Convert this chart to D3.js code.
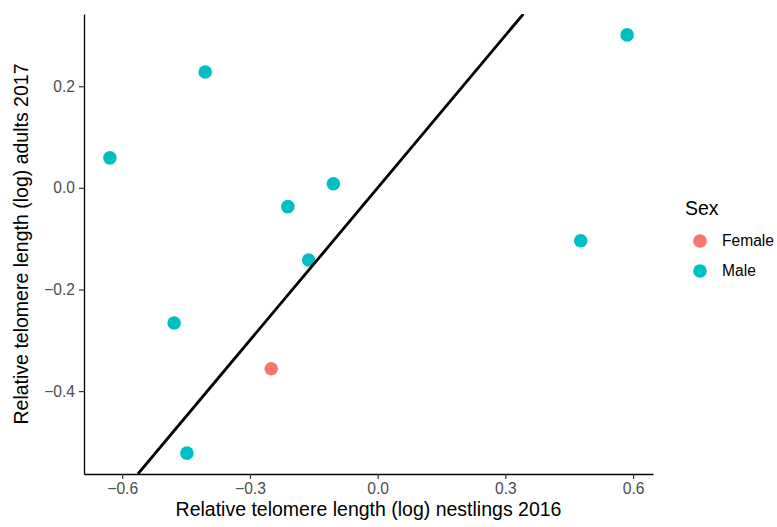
<!DOCTYPE html>
<html>
<head>
<meta charset="utf-8">
<script src="https://cdn.jsdelivr.net/npm/d3@7"></script>
<style>
  body { margin: 0; background: #fff; }
  svg { display: block; font-family: "Liberation Sans", Arial, sans-serif; }
</style>
</head>
<body>
<div id="chart"></div>
<script>
// nestlings 2016 (x) vs adults 2017 (y), log relative telomere length
var nestlings = [-0.629, -0.405, 0.586, -0.104, -0.211, -0.162, 0.477, -0.478, -0.250, -0.448];
var adults    = [0.059, 0.228, 0.301, 0.008, -0.037, -0.142, -0.104, -0.266, -0.356, -0.522];
var sex       = ["Male", "Male", "Male", "Male", "Male", "Male", "Male", "Male", "Female", "Male"];

var sexLevels = ["Female", "Male"];
var sexColors = ["#F8766D", "#00BFC4"];
var xTicks = [-0.6, -0.3, 0.0, 0.3, 0.6];
var yTicks = [-0.4, -0.2, 0.0, 0.2];

var width = 777, height = 527;
var margin = { top: 14, right: 124, bottom: 53, left: 84 };

var points = nestlings.map((d, i) => ({ x: d, y: adults[i], sex: sex[i] }));

// ggplot style 5% expansion
function expand(ext) {
  var pad = (ext[1] - ext[0]) * 0.05;
  return [ext[0] - pad, ext[1] + pad];
}
var xDom = expand(d3.extent(nestlings));
var yDom = expand(d3.extent(adults));

var x = d3.scaleLinear().domain(xDom).range([margin.left, width - margin.right]);
var y = d3.scaleLinear().domain(yDom).range([height - margin.bottom, margin.top]);
var color = d3.scaleOrdinal().domain(sexLevels).range(sexColors);

var svg = d3.select("#chart")
  .append("svg")
  .attr("width", width)
  .attr("height", height);

svg.append("clipPath")
  .attr("id", "clip")
  .append("rect")
  .attr("x", margin.left)
  .attr("y", margin.top)
  .attr("width", width - margin.right - margin.left)
  .attr("height", height - margin.bottom - margin.top);

// Axes
var fmt = d3.format(".1f");
var xAxis = svg.append("g")
  .attr("transform", `translate(0,${height - margin.bottom})`)
  .call(d3.axisBottom(x).tickValues(xTicks).tickFormat(fmt).tickSizeInner(5).tickSizeOuter(0).tickPadding(4));

var yAxis = svg.append("g")
  .attr("transform", `translate(${margin.left},0)`)
  .call(d3.axisLeft(y).tickValues(yTicks).tickFormat(fmt).tickSizeInner(5).tickSizeOuter(0).tickPadding(4));

[xAxis, yAxis].forEach(ax => {
  ax.select(".domain").attr("stroke", "#000").attr("stroke-width", 1.3);
  ax.selectAll(".tick line").attr("stroke", "#333").attr("stroke-width", 1.2);
  ax.selectAll(".tick text").attr("fill", "#4D4D4D").style("font-size", "15.6px");
});

// Points
svg.append("g")
  .selectAll("circle")
  .data(points)
  .enter()
  .append("circle")
  .attr("cx", d => x(d.x))
  .attr("cy", d => y(d.y))
  .attr("r", 6.8)
  .attr("fill", d => color(d.sex));

// y = x reference line
var lo = Math.max(xDom[0], yDom[0]), hi = Math.min(xDom[1], yDom[1]);
svg.append("line")
  .attr("clip-path", "url(#clip)")
  .attr("x1", x(lo)).attr("y1", y(lo))
  .attr("x2", x(hi)).attr("y2", y(hi))
  .attr("stroke", "#000")
  .attr("stroke-width", 2.8);

// Axis titles
svg.append("text")
  .attr("x", (x.range()[0] + x.range()[1]) / 2)
  .attr("y", 516)
  .attr("text-anchor", "middle")
  .style("font-size", "19.5px")
  .attr("fill", "#000")
  .text("Relative telomere length (log) nestlings 2016");

svg.append("text")
  .attr("transform", `translate(28,${(y.range()[0] + y.range()[1]) / 2}) rotate(-90)`)
  .attr("text-anchor", "middle")
  .style("font-size", "19.5px")
  .attr("fill", "#000")
  .text("Relative telomere length (log) adults 2017");

// Legend
var legend = svg.append("g");
legend.append("text")
  .attr("x", 685)
  .attr("y", 215)
  .style("font-size", "19.5px")
  .text("Sex");

var keys = legend.selectAll("g.key")
  .data(sexLevels)
  .enter()
  .append("g")
  .attr("class", "key")
  .attr("transform", (d, i) => `translate(700,${241 + i * 30})`);

keys.append("circle")
  .attr("r", 6.8)
  .attr("fill", d => color(d));

keys.append("text")
  .attr("x", 22)
  .attr("dy", "0.35em")
  .style("font-size", "15.6px")
  .attr("fill", "#000")
  .text(d => d);
</script>
</body>
</html>
